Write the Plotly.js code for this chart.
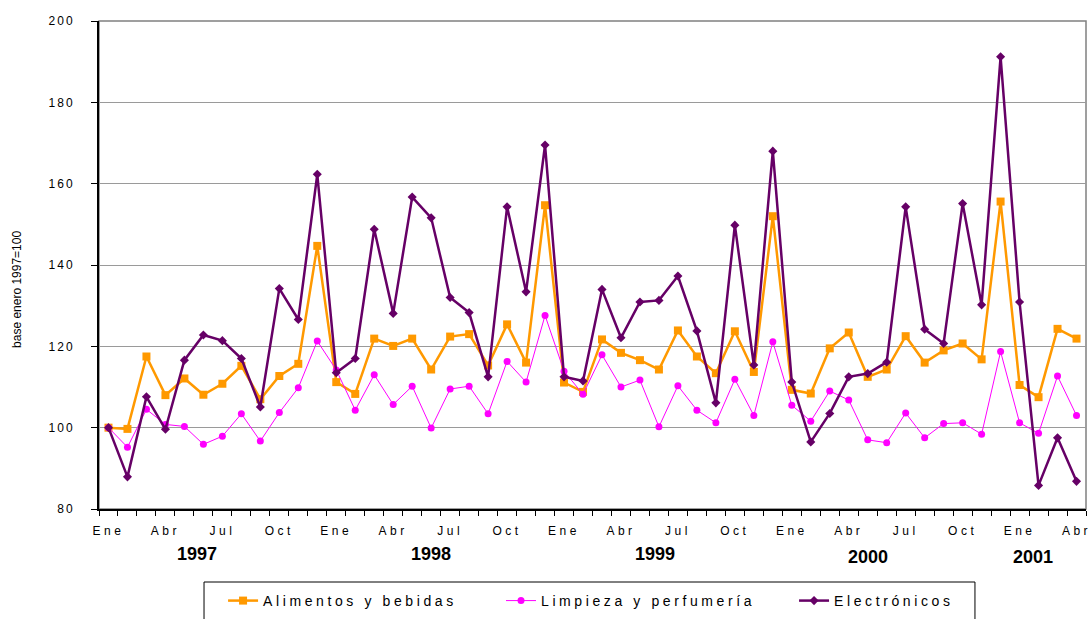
<!DOCTYPE html>
<html>
<head>
<meta charset="utf-8">
<script src="https://cdn.plot.ly/plotly-3.0.1.min.js"></script>
<style>
html,body{margin:0;padding:0;background:#fff;}
#chart{width:1091px;height:619px;}
.xtick text{letter-spacing:3.5px;}
.ytick text{letter-spacing:2px;}
.legendtext, g[class^="legend"] text{letter-spacing:3.6px;}
</style>
</head>
<body>
<div id="chart"></div>
<script>
const monthLabels = ["Ene","Abr","Jul","Oct"];
const years = ["1997","1998","1999","2000","2001"];
const yearPos = [4.67, 17.0, 28.8, 40.0, 48.7];
const yearDrop = [-0.0922, -0.0922, -0.0922, -0.0984, -0.0984];

const alimentos = [100,99.7,117.5,108.0,112.1,108.1,110.8,115.2,107.0,112.7,115.7,144.7,
  111.2,108.3,121.9,120.1,121.9,114.3,122.4,123.0,115.3,125.4,116.0,154.7,
  111.1,108.8,121.7,118.4,116.6,114.3,123.9,117.5,113.4,123.7,113.7,152.0,
  109.3,108.4,119.5,123.4,112.5,114.3,122.5,116.0,119.0,120.7,116.8,155.6,
  110.5,107.5,124.3,121.9];
const limpieza = [100,95.2,104.5,100.8,100.3,95.9,97.9,103.4,96.7,103.7,109.8,121.3,
  114.2,104.3,113.0,105.7,110.2,99.9,109.5,110.2,103.4,116.3,111.2,127.6,
  113.9,108.2,117.9,110.0,111.7,100.2,110.3,104.3,101.2,111.9,103.0,121.1,
  105.5,101.6,109.0,106.8,97.0,96.3,103.6,97.5,101.0,101.2,98.4,118.7,
  101.2,98.6,112.7,103.0];
const electronicos = [100,87.9,107.6,99.6,116.6,122.8,121.4,117.0,105.1,134.2,126.6,162.3,
  113.5,117.0,148.8,128.1,156.7,151.6,132.0,128.3,112.5,154.3,133.4,169.5,
  112.5,111.5,134.0,122.1,130.9,131.3,137.3,123.8,106.1,149.8,115.4,168.0,
  111.2,96.5,103.5,112.5,113.3,116.1,154.3,124.2,120.7,155.1,130.2,191.2,
  130.9,85.8,97.5,86.8];

const idx = alimentos.map((_, i) => i);
const tickvals = [], ticktext = [];
for (let i = 0; i < idx.length; i += 3) { tickvals.push(i); ticktext.push(monthLabels[(i / 3) % 4]); }

const traces = [
  {x: idx, y: alimentos, name: "Alimentos y bebidas", type: "scatter", mode: "lines+markers", legend: "legend",
   line: {color: "#FF9900", width: 2.5}, marker: {symbol: "square", size: 8, color: "#FF9900"}},
  {x: idx, y: limpieza, name: "Limpieza y perfumería", type: "scatter", mode: "lines+markers", legend: "legend2",
   line: {color: "#FF00FF", width: 1}, marker: {symbol: "circle", size: 7, color: "#FF00FF"}},
  {x: idx, y: electronicos, name: "Electrónicos", type: "scatter", mode: "lines+markers", legend: "legend3",
   line: {color: "#660066", width: 2.5}, marker: {symbol: "diamond", size: 7, color: "#660066"}}
];

const annotations = years.map((y, i) => ({
  x: yearPos[i], y: yearDrop[i], xref: "x", yref: "paper", yanchor: "middle", text: "<b>" + y + "</b>",
  showarrow: false, font: {family: "Arial, Liberation Sans, sans-serif", size: 18, color: "#000"}
}));
annotations.push({
  x: -0.083, y: 0.449, xref: "paper", yref: "paper", xanchor: "center", yanchor: "middle",
  text: "base enero 1997=100", textangle: -90, showarrow: false,
  font: {family: "Arial, Liberation Sans, sans-serif", size: 12, color: "#000"}
});

function leg(x) {
  return {orientation: "h", yref: "container", yanchor: "middle", y: 0.0291, xanchor: "left", x: x,
    bgcolor: "rgba(0,0,0,0)", borderwidth: 0, entrywidth: 240, entrywidthmode: "pixels",
    font: {family: "Arial, Liberation Sans, sans-serif", size: 14, color: "#000"}};
}

const layout = {
  width: 1091, height: 619,
  margin: {l: 99, r: 5, t: 21, b: 110},
  paper_bgcolor: "#fff", plot_bgcolor: "#fff",
  font: {family: "Arial, Liberation Sans, sans-serif", color: "#000", size: 12},
  showlegend: true,
  legend: leg(0.1257),
  legend2: leg(0.4073),
  legend3: leg(0.7042),
  xaxis: {range: [-0.5, 51.5], tickmode: "array", tickvals: tickvals, ticktext: ticktext,
    ticks: "", showgrid: false, zeroline: false, showline: true, linecolor: "#000", linewidth: 2,
    tickfont: {size: 12}, ticklabelstandoff: 10, ticklabeloverflow: "allow",
    minor: {tickmode: "linear", tick0: -0.5, dtick: 1, ticks: "outside", ticklen: 5, tickcolor: "#000", tickwidth: 1, showgrid: false}},
  yaxis: {range: [80, 200], dtick: 20, ticks: "outside", ticklen: 6, tickcolor: "#000",
    showgrid: true, gridcolor: "#9a9a9a", gridwidth: 1, zeroline: false,
    showline: true, linecolor: "#000", linewidth: 2, tickfont: {size: 12}, ticklabelstandoff: 14},
  shapes: [
    {type: "rect", xref: "paper", yref: "paper", x0: 0, x1: 1, y0: 0, y1: 1,
     line: {color: "#808080", width: 1.5}, layer: "below"},
    {type: "rect", xref: "paper", yref: "paper", x0: 0.1064, x1: 0.8875, y0: -0.2377, y1: -0.1496,
     line: {color: "#000", width: 1}, fillcolor: "rgba(0,0,0,0)"}
  ],
  annotations: annotations
};

Plotly.newPlot("chart", traces, layout, {displayModeBar: false, staticPlot: true});
</script>
</body>
</html>
